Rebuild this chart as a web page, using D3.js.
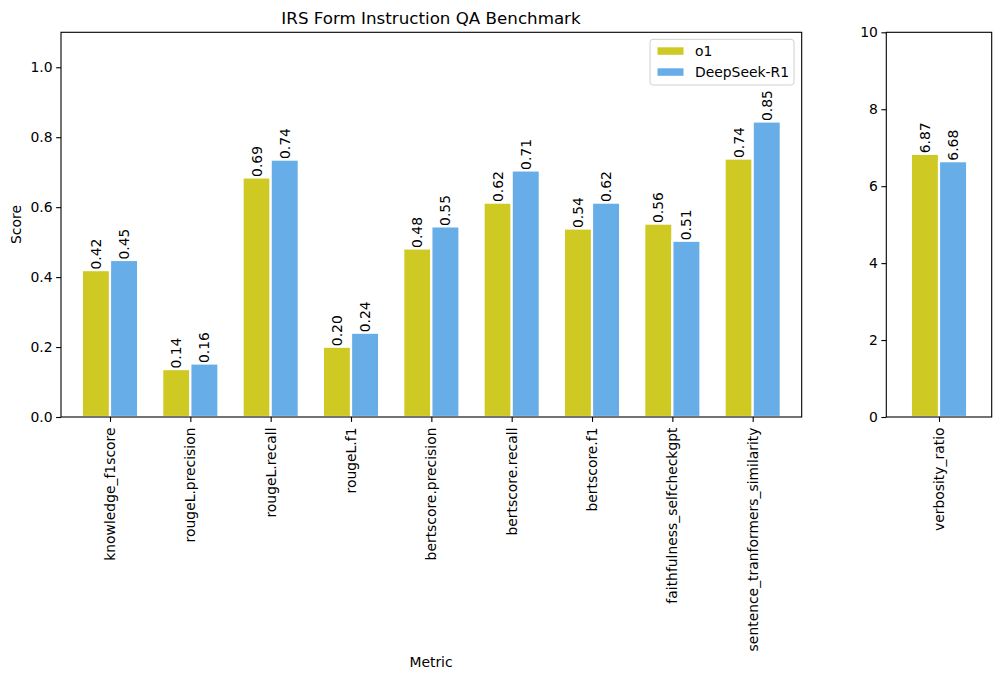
<!DOCTYPE html>
<html>
<head>
<meta charset="utf-8">
<script src="https://cdn.jsdelivr.net/npm/d3@7"></script>
<style>
  body { margin: 0; background: #fff; }
  svg { font-family: "DejaVu Sans", sans-serif; }
</style>
</head>
<body>
<svg id="chart" width="1001" height="680"></svg>
<script>
var metrics = ['knowledge_f1score', 'rougeL.precision', 'rougeL.recall', 'rougeL.f1',
  'bertscore.precision', 'bertscore.recall', 'bertscore.f1',
  'faithfulness_selfcheckgpt', 'sentence_tranformers_similarity'];
var seriesNames = ['o1', 'DeepSeek-R1'];
var o1Scores = [0.420, 0.137, 0.685, 0.201, 0.482, 0.613, 0.539, 0.553, 0.739];
var r1Scores = [0.449, 0.153, 0.736, 0.241, 0.545, 0.705, 0.613, 0.504, 0.845];
var o1Labels = ['0.42', '0.14', '0.69', '0.20', '0.48', '0.62', '0.54', '0.56', '0.74'];
var r1Labels = ['0.45', '0.16', '0.74', '0.24', '0.55', '0.71', '0.62', '0.51', '0.85'];
var sideMetric = ['verbosity_ratio'];
var o1Verbosity = [6.84];
var r1Verbosity = [6.65];
var o1VerbLabels = ['6.87'];
var r1VerbLabels = ['6.68'];
var scoreTicks = [0, 0.2, 0.4, 0.6, 0.8, 1.0];
var verbosityTicks = [0, 2, 4, 6, 8, 10];

var colors = ['#cfc923', '#67aee8'];
var barW = 0.35, fs = 13.9;

var svg = d3.select('#chart');

function panel(opts) {
  var x = d3.scaleLinear().domain(opts.xdom).range([opts.left, opts.right]);
  var y = d3.scaleLinear().domain(opts.ydom).range([417, 32.3]);
  var g = svg.append('g');

  var series = [opts.a, opts.b];
  var labels = [opts.la, opts.lb];
  series.forEach(function(vals, s) {
    var off = s === 0 ? -barW / 2 : barW / 2;
    g.selectAll('rect.s' + s)
      .data(vals)
      .enter()
      .append('rect')
      .attr('class', 's' + s)
      .attr('x', function(d, i) { return x(i + off - barW / 2); })
      .attr('width', x(barW) - x(0))
      .attr('y', function(d) { return y(d); })
      .attr('height', function(d) { return y(0) - y(d); })
      .style('fill', colors[s])
      .style('stroke', '#fff')
      .style('stroke-width', 2.2);

    g.selectAll('text.v' + s)
      .data(vals)
      .enter()
      .append('text')
      .attr('class', 'v' + s)
      .attr('transform', function(d, i) {
        return 'translate(' + x(i + off) + ',' + (y(d) - 0.5) + ') rotate(-90)';
      })
      .attr('dominant-baseline', 'central')
      .style('font-size', fs + 'px')
      .text(function(d, i) { return labels[s][i]; });
  });

  // y axis
  var yAxis = d3.axisLeft(y).tickValues(opts.yticks).tickFormat(opts.yfmt)
    .tickSize(4.9).tickPadding(3.5).tickSizeOuter(0);
  var ya = g.append('g').attr('transform', 'translate(' + opts.left + ',0)').call(yAxis);
  ya.select('.domain').remove();

  // x axis
  var xAxis = d3.axisBottom(x).tickValues(d3.range(opts.labels.length))
    .tickFormat(function(i) { return opts.labels[i]; })
    .tickSize(4.9).tickPadding(3.5).tickSizeOuter(0);
  var xa = g.append('g').attr('transform', 'translate(0,417)').call(xAxis);
  xa.select('.domain').remove();
  xa.selectAll('text')
    .attr('transform', 'rotate(-90)')
    .attr('x', -10.5)
    .attr('y', 0)
    .attr('dy', '0.32em')
    .attr('text-anchor', 'end');

  [ya, xa].forEach(function(a) {
    a.selectAll('text').style('font-size', fs + 'px').style('font-family', '"DejaVu Sans", sans-serif').attr('fill', '#000');
    a.selectAll('line').attr('stroke', '#000').attr('stroke-width', 1.1);
  });

  g.append('rect')
    .attr('x', opts.left).attr('y', 32.3)
    .attr('width', opts.right - opts.left).attr('height', 417 - 32.3)
    .style('fill', 'none').style('stroke', '#000').style('stroke-width', 1.1);
  return g;
}

panel({
  left: 61, right: 801.7, xdom: [-0.61, 8.61], ydom: [0, 1.1],
  a: o1Scores, b: r1Scores, la: o1Labels, lb: r1Labels,
  labels: metrics, yticks: scoreTicks, yfmt: d3.format('.1f')
});
panel({
  left: 886.3, right: 991.7, xdom: [-0.655, 0.655], ydom: [0, 10],
  a: o1Verbosity, b: r1Verbosity, la: o1VerbLabels, lb: r1VerbLabels,
  labels: sideMetric, yticks: verbosityTicks, yfmt: d3.format('d')
});

// title and axis labels
svg.append('text').attr('x', 431).attr('y', 24).attr('text-anchor', 'middle')
  .style('font-size', '16.7px').text('IRS Form Instruction QA Benchmark');
svg.append('text').attr('x', 431).attr('y', 667).attr('text-anchor', 'middle')
  .style('font-size', fs + 'px').text('Metric');
svg.append('text').attr('transform', 'translate(21,224.5) rotate(-90)').attr('text-anchor', 'middle')
  .style('font-size', fs + 'px').text('Score');

// legend
var lg = svg.append('g').attr('transform', 'translate(650,39.3)');
lg.append('rect').attr('width', 144).attr('height', 45.7).attr('rx', 3)
  .style('fill', '#fff').style('fill-opacity', 0.8).style('stroke', '#d0d0d0').style('stroke-width', 1);
seriesNames.forEach(function(n, i) {
  lg.append('rect').attr('x', 7.5).attr('y', 8 + i * 21).attr('width', 26).attr('height', 7.5)
    .style('fill', colors[i]);
  lg.append('text').attr('x', 45).attr('y', 12 + i * 21).attr('dy', '0.35em')
    .style('font-size', fs + 'px').text(n);
});
</script>
</body>
</html>
